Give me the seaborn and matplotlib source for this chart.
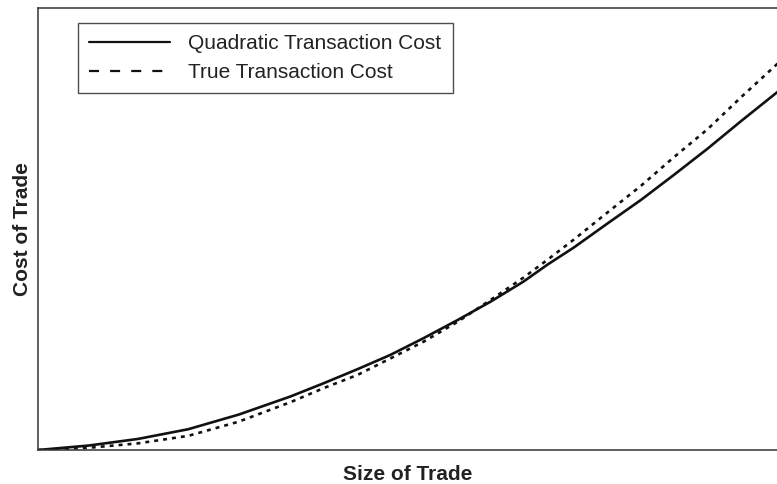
import pandas as pd
import seaborn as sns
import matplotlib
matplotlib.use('Agg')
import matplotlib.pyplot as plt

# values (size of trade 0..1, cost as fraction of axis height)
trade_size = [0.0, 0.068, 0.135, 0.203, 0.271, 0.341, 0.386, 0.432, 0.476, 0.521, 0.567,
              0.612, 0.656, 0.689, 0.724, 0.770, 0.815, 0.859, 0.905, 0.950, 1.0]
cost_quad = [0.0, 0.010, 0.025, 0.047, 0.080, 0.121, 0.151, 0.183, 0.215, 0.253, 0.294,
             0.336, 0.381, 0.420, 0.458, 0.513, 0.566, 0.622, 0.682, 0.744, 0.811]
cost_true = [0.0, 0.005, 0.015, 0.032, 0.064, 0.108, 0.140, 0.170, 0.207, 0.245, 0.290,
             0.340, 0.390, 0.431, 0.476, 0.538, 0.598, 0.662, 0.726, 0.798, 0.875]
labels = ['Quadratic Transaction Cost', 'True Transaction Cost']

df = pd.concat([
    pd.DataFrame({'size': trade_size, 'cost': cost_quad, 'series': labels[0]}),
    pd.DataFrame({'size': trade_size, 'cost': cost_true, 'series': labels[1]}),
])

sns.set_style('white')
plt.rcParams['font.family'] = ['Liberation Sans', 'DejaVu Sans']

fig = plt.figure(figsize=(7.77, 4.84), dpi=100)
ax = fig.add_axes([38 / 777, 34 / 484, 740 / 777, 442 / 484])

sns.lineplot(data=df, x='size', y='cost', hue='series', style='series',
             palette={labels[0]: '#111111', labels[1]: '#111111'},
             dashes={labels[0]: '', labels[1]: (1.5, 1.9)},
             linewidth=1.9, ax=ax, legend=True, sort=False)

ax.set_xlim(0, 1)
ax.set_ylim(0, 1)
ax.set_xticks([])
ax.set_yticks([])
for sp in ax.spines.values():
    sp.set_color('#333333')
    sp.set_linewidth(1.1)

ax.set_xlabel('Size of Trade', fontsize=15, fontweight='bold', labelpad=11, color='#222222')
ax.set_ylabel('Cost of Trade', fontsize=15, fontweight='bold', labelpad=4, color='#222222')

leg = ax.legend(loc='upper left', bbox_to_anchor=(40 / 740, 1 - 15 / 442), borderaxespad=0,
                fontsize=15, frameon=True, fancybox=False, handlelength=3.85,
                handletextpad=0.9, borderpad=0.55, labelspacing=0.45)
leg.get_frame().set_edgecolor('#222222')
leg.get_frame().set_linewidth(1.0)
for line in leg.get_lines():
    line.set_linewidth(1.6)
leg.get_lines()[1].set_dashes([4.5, 5])
for t in leg.get_texts():
    t.set_color('#222222')

fig.savefig('out.png', dpi=100)
